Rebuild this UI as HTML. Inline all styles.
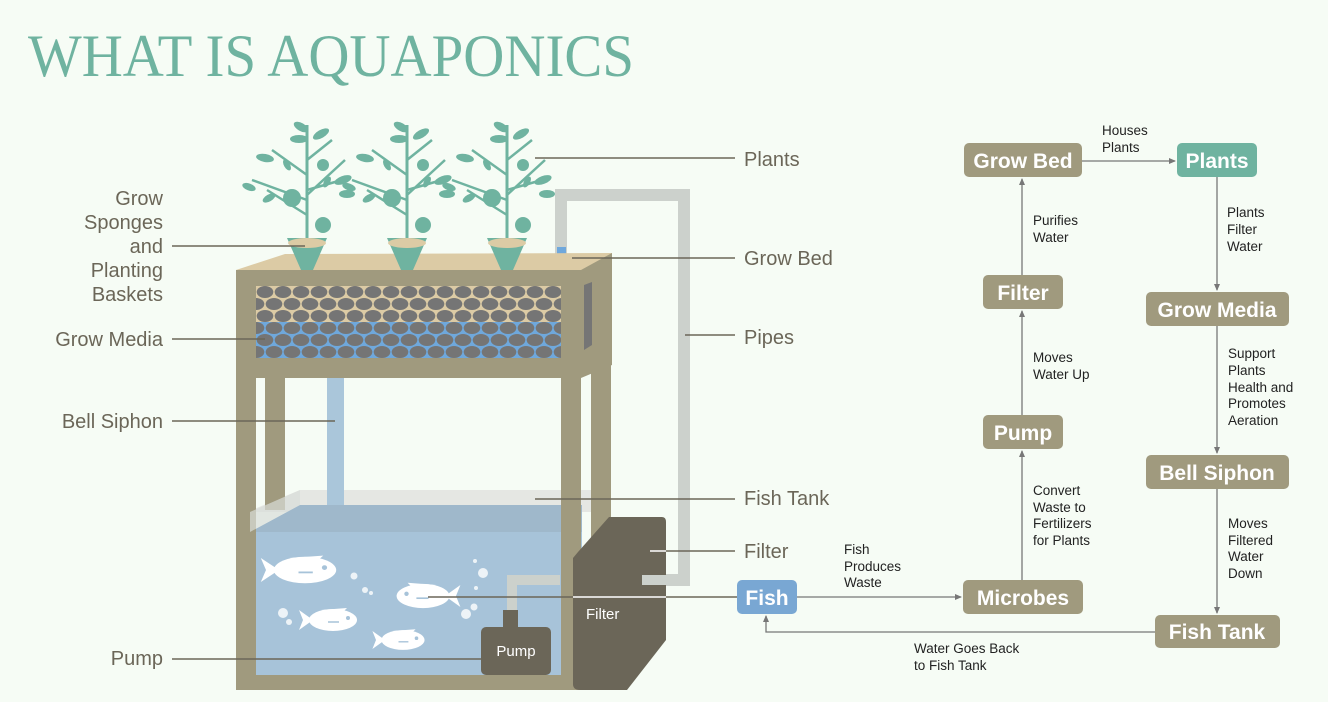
<!DOCTYPE html>
<html><head><meta charset="utf-8"><style>
html,body{margin:0;padding:0;background:#f6fcf5;}
svg{display:block;}
.lbl{font-family:"Liberation Sans",sans-serif;font-size:20px;fill:#6b6658;}
.box{font-family:"Liberation Sans",sans-serif;font-size:21px;font-weight:bold;fill:#fff;text-anchor:middle;}
.el{font-family:"Liberation Sans",sans-serif;font-size:13.5px;fill:#222;}
</style></head><body>
<svg width="1328" height="702" viewBox="0 0 1328 702" xmlns="http://www.w3.org/2000/svg">
<defs>
<pattern id="peb" x="256" y="286" width="18" height="24" patternUnits="userSpaceOnUse">
<ellipse cx="9" cy="6" rx="8.3" ry="6" fill="#757575"/>
<ellipse cx="0" cy="18" rx="8.3" ry="6" fill="#757575"/>
<ellipse cx="18" cy="18" rx="8.3" ry="6" fill="#757575"/>
</pattern>
<marker id="ar" markerWidth="8" markerHeight="8" refX="6" refY="4" orient="auto" markerUnits="userSpaceOnUse">
<path d="M0,1 L7,4 L0,7 z" fill="#777"/>
</marker>
<g id="plant" fill="#6fb3a0" stroke="none">
<path d="M0,245 L0,125" stroke="#6fb3a0" stroke-width="3"/>
<path d="M0,215 L-40,190 M0,195 L38,160 M0,175 L-35,150 M0,160 L25,140 M0,200 L-55,180 M0,190 L35,180" stroke="#6fb3a0" stroke-width="2.5" fill="none"/>
<ellipse cx="-6" cy="127" rx="8" ry="4" transform="rotate(30 -6 127)"/>
<ellipse cx="14" cy="134" rx="9" ry="4" transform="rotate(-30 14 134)"/>
<ellipse cx="-8" cy="139" rx="9" ry="4"/>
<ellipse cx="-42" cy="158" rx="9" ry="4" transform="rotate(10 -42 158)"/>
<ellipse cx="-20" cy="165" rx="6" ry="3" transform="rotate(60 -20 165)"/>
<ellipse cx="36" cy="180" rx="9" ry="4" transform="rotate(-20 36 180)"/>
<ellipse cx="-58" cy="187" rx="7" ry="3.5" transform="rotate(20 -58 187)"/>
<ellipse cx="-38" cy="198" rx="7" ry="3.5" transform="rotate(-30 -38 198)"/>
<ellipse cx="40" cy="194" rx="8" ry="4"/>
<ellipse cx="20" cy="182" rx="6" ry="3" transform="rotate(-60 20 182)"/>
<circle cx="16" cy="165" r="6"/>
<circle cx="-15" cy="198" r="9"/>
<circle cx="16" cy="225" r="8"/>
<path d="M-20,238 L20,238 L6,270 L-6,270 z"/>
<ellipse cx="0" cy="243" rx="19" ry="5" fill="#dccba5"/>
</g>
<g id="fish" fill="#fff">
<ellipse cx="0" cy="0" rx="24" ry="11"/>
<path d="M-20,0 L-34,-10 L-30,0 L-34,10 z"/>
<path d="M-12,-10 L14,-12 L8,-6 z"/>
<circle cx="15" cy="-2" r="2" fill="#a7c3d9"/>
<path d="M-5,2 L6,2" stroke="#a7c3d9" stroke-width="1.5"/>
</g>
</defs>
<rect width="1328" height="702" fill="#f6fcf5"/>
<text x="28" y="76" font-family="Liberation Serif,serif" font-size="60" fill="#6fb3a0" textLength="606" lengthAdjust="spacingAndGlyphs">WHAT IS AQUAPONICS</text>

<path d="M561,268 L561,195 L684,195 L684,580 L642,580" stroke="#ccd1cc" stroke-width="12" fill="none"/>
<rect x="557" y="247" width="9" height="25" fill="#6fa8dc"/>

<path d="M247,512 L300,490 L591,490 L591,512 z" fill="#e5e7e3"/>
<rect x="327" y="378" width="17" height="137" fill="#aac6da"/>
<ellipse cx="335" cy="515" rx="9" ry="3" fill="#b9cedd"/>
<path d="M250,532 L300,505 L582,505 L582,675 L250,675 z" fill="#a7c3d9"/>
<path d="M250,532 L300,505 L582,505 L582,532 z" fill="#9fb8cb"/>

<rect x="236" y="270" width="20" height="420" fill="#a09a7e"/>
<rect x="265" y="370" width="20" height="140" fill="#a09a7e"/>
<rect x="561" y="270" width="20" height="420" fill="#a09a7e"/>
<rect x="591" y="255" width="20" height="300" fill="#a09a7e"/>
<rect x="236" y="675" width="345" height="15" fill="#a09a7e"/>
<rect x="236" y="500" width="14" height="190" fill="#a09a7e"/>
<path d="M250,512 L250,532 L300,505 L300,490 z" fill="#d9ddd8" opacity=".7"/>

<path d="M236,270 L285,254 L612,253 L612,268 L581,270 z" fill="#dccba5"/>
<path d="M581,270 L612,253 L612,365 L581,378 z" fill="#a09a7e"/>
<rect x="236" y="270" width="345" height="108" fill="#a09a7e"/>
<rect x="256" y="286" width="305" height="36" fill="#dccba5"/>
<rect x="256" y="322" width="305" height="36" fill="#6fa8dc"/>
<rect x="256" y="286" width="305" height="72" fill="url(#peb)"/>
<path d="M584,285 L592,282 L592,345 L584,350 z" fill="#757575"/>

<use href="#plant" x="307"/>
<use href="#plant" x="407"/>
<use href="#plant" x="507"/>

<use href="#fish" transform="translate(305,570) scale(1.3,1.2)"/>
<use href="#fish" transform="translate(423,596) scale(-1.1,1.1)"/>
<use href="#fish" transform="translate(333,620)"/>
<use href="#fish" transform="translate(403,640) scale(0.9)"/>
<g fill="#fff" opacity=".8">
<circle cx="354" cy="576" r="3.5"/><circle cx="365" cy="590" r="3"/><circle cx="371" cy="593" r="2"/>
<circle cx="283" cy="613" r="5"/><circle cx="289" cy="622" r="3"/>
<circle cx="483" cy="573" r="5"/><circle cx="475" cy="561" r="2"/><circle cx="476" cy="588" r="2"/>
<circle cx="466" cy="614" r="5"/><circle cx="474" cy="607" r="3.5"/>
</g>

<path d="M512,612 L512,580 L560,580" stroke="#ccd1cc" stroke-width="10" fill="none"/>
<rect x="503" y="610" width="15" height="20" fill="#6b6658"/>
<rect x="481" y="627" width="70" height="48" rx="5" fill="#6b6658"/>
<text x="516" y="656" font-family="Liberation Sans,sans-serif" font-size="15" fill="#fff" text-anchor="middle">Pump</text>
<path d="M578,552 L609,517 L662,517 Q666,517 666,522 L666,640 L627,690 L580,690 Q573,690 573,684 L573,558 z" fill="#6b6658"/>
<rect x="642" y="575" width="25" height="10" fill="#ccd1cc"/>
<text x="586" y="619" font-family="Liberation Sans,sans-serif" font-size="15" fill="#fff">Filter</text>

<g stroke="#6b6658" stroke-width="1.5">
<line x1="172" y1="246" x2="305" y2="246"/>
<line x1="172" y1="339" x2="265" y2="339"/>
<line x1="172" y1="421" x2="335" y2="421"/>
<line x1="172" y1="659" x2="481" y2="659"/>
<line x1="535" y1="158" x2="735" y2="158"/>
<line x1="572" y1="258" x2="735" y2="258"/>
<line x1="685" y1="335" x2="735" y2="335"/>
<line x1="535" y1="499" x2="735" y2="499"/>
<line x1="650" y1="551" x2="735" y2="551"/>
<line x1="428" y1="597" x2="737" y2="597"/>
</g>
<line x1="573" y1="597" x2="666" y2="597" stroke="#fff" stroke-width="1.5"/>
<line x1="650" y1="551" x2="666" y2="551" stroke="#fff" stroke-width="1.5"/>

<g class="lbl" text-anchor="end">
<text x="163" y="205">Grow</text><text x="163" y="229">Sponges</text><text x="163" y="253">and</text><text x="163" y="277">Planting</text><text x="163" y="301">Baskets</text>
<text x="163" y="346">Grow Media</text>
<text x="163" y="428">Bell Siphon</text>
<text x="163" y="665">Pump</text>
</g>
<g class="lbl">
<text x="744" y="166">Plants</text>
<text x="744" y="265">Grow Bed</text>
<text x="744" y="344">Pipes</text>
<text x="744" y="505">Fish Tank</text>
<text x="744" y="558">Filter</text>
</g>

<g stroke="#777" stroke-width="1.3" fill="none" marker-end="url(#ar)">
<line x1="1082" y1="161" x2="1175" y2="161"/>
<line x1="1217" y1="177" x2="1217" y2="290"/>
<line x1="1217" y1="326" x2="1217" y2="453"/>
<line x1="1217" y1="489" x2="1217" y2="613"/>
<polyline points="1155,632 766,632 766,616"/>
<line x1="797" y1="597" x2="961" y2="597"/>
<line x1="1022" y1="580" x2="1022" y2="451"/>
<line x1="1022" y1="415" x2="1022" y2="311"/>
<line x1="1022" y1="275" x2="1022" y2="179"/>
</g>

<rect x="964" y="143" width="118" height="34" rx="5" fill="#a09a7e"/><text class="box" x="1023" y="168">Grow Bed</text>
<rect x="1177" y="143" width="80" height="34" rx="5" fill="#6fb3a0"/><text class="box" x="1217" y="168">Plants</text>
<rect x="983" y="275" width="80" height="34" rx="5" fill="#a09a7e"/><text class="box" x="1023" y="300">Filter</text>
<rect x="983" y="415" width="80" height="34" rx="5" fill="#a09a7e"/><text class="box" x="1023" y="440">Pump</text>
<rect x="963" y="580" width="120" height="34" rx="5" fill="#a09a7e"/><text class="box" x="1023" y="605">Microbes</text>
<rect x="737" y="580" width="60" height="34" rx="5" fill="#79a7d3"/><text class="box" x="767" y="605">Fish</text>
<rect x="1146" y="292" width="143" height="34" rx="5" fill="#a09a7e"/><text class="box" x="1217" y="317">Grow Media</text>
<rect x="1146" y="455" width="143" height="34" rx="5" fill="#a09a7e"/><text class="box" x="1217" y="480">Bell Siphon</text>
<rect x="1155" y="615" width="125" height="33" rx="5" fill="#a09a7e"/><text class="box" x="1217" y="639">Fish Tank</text>

<g class="el">
<text x="1102" y="135">Houses</text><text x="1102" y="152">Plants</text>
<text x="1033" y="225">Purifies</text><text x="1033" y="242">Water</text>
<text x="1227" y="217">Plants</text><text x="1227" y="234">Filter</text><text x="1227" y="251">Water</text>
<text x="1033" y="362">Moves</text><text x="1033" y="379">Water Up</text>
<text x="1228" y="358">Support</text><text x="1228" y="375">Plants</text><text x="1228" y="392">Health and</text><text x="1228" y="408">Promotes</text><text x="1228" y="425">Aeration</text>
<text x="1033" y="495">Convert</text><text x="1033" y="512">Waste to</text><text x="1033" y="528">Fertilizers</text><text x="1033" y="545">for Plants</text>
<text x="1228" y="528">Moves</text><text x="1228" y="545">Filtered</text><text x="1228" y="561">Water</text><text x="1228" y="578">Down</text>
<text x="844" y="554">Fish</text><text x="844" y="571">Produces</text><text x="844" y="587">Waste</text>
<text x="914" y="653">Water Goes Back</text><text x="914" y="670">to Fish Tank</text>
</g>
</svg>
</body></html>
